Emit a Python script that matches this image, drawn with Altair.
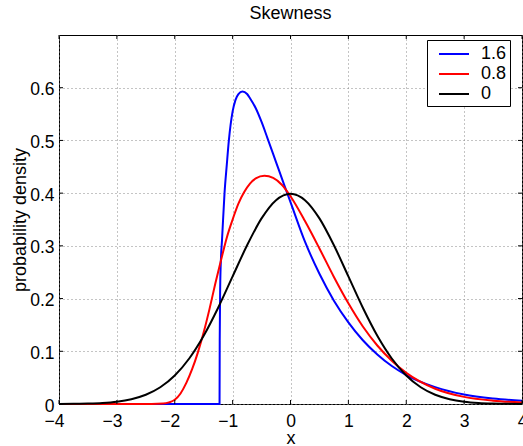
import altair as alt
import pandas as pd

FONT = "Liberation Sans"
W, H = 463, 369

series_names = ["1.6", "0.8", "0"]
series_colors = ["#0000ff", "#ff0000", "#000000"]

x_ticks = [-4, -3, -2, -1, 0, 1, 2, 3, 4]
y_ticks = [0, 0.1, 0.2, 0.3, 0.4, 0.5, 0.6]

# skewness 1.6 (blue)
blue_x = [-4.0, -1.226, -1.223, -1.215, -1.2, -1.184, -1.14, -1.1, -1.065, -1.0,
          -0.95, -0.9, -0.83, -0.75, -0.7, -0.6, -0.5, -0.4, -0.25, -0.1, 0.0,
          0.25, 0.5, 0.75, 1.0, 1.25, 1.5, 1.75, 2.0, 2.5, 3.0, 3.5, 4.0]
blue_y = [0.0, 0.0, 0.12, 0.22, 0.28, 0.31, 0.40, 0.455, 0.50, 0.555,
          0.577, 0.588, 0.593, 0.588, 0.580, 0.561, 0.535, 0.505, 0.459, 0.413, 0.383,
          0.308, 0.247, 0.196, 0.155, 0.121, 0.094, 0.072, 0.055, 0.032, 0.018, 0.0105, 0.0062]

# skewness 0.8 (red)
red_x = [-4.0, -2.4, -2.2, -2.1, -2.0, -1.9, -1.8, -1.7, -1.6, -1.5, -1.4, -1.3,
         -1.2, -1.1, -1.0, -0.9, -0.8, -0.7, -0.6, -0.45, -0.3, -0.15, 0.0, 0.25,
         0.5, 0.75, 1.0, 1.25, 1.5, 1.75, 2.0, 2.5, 3.0, 3.5, 4.0]
red_y = [0.0, 0.0, 0.0008, 0.003, 0.008, 0.02, 0.04, 0.066, 0.098, 0.136, 0.18, 0.228,
         0.273, 0.316, 0.350, 0.380, 0.402, 0.418, 0.428, 0.433, 0.429, 0.416, 0.394, 0.347,
         0.295, 0.241, 0.191, 0.147, 0.111, 0.082, 0.059, 0.029, 0.0135, 0.0063, 0.003]

# skewness 0 (black)
black_x = [-4.0, -3.75, -3.5, -3.25, -3.0, -2.75, -2.5, -2.25, -2.0, -1.75, -1.5,
           -1.25, -1.0, -0.75, -0.5, -0.25, 0.0, 0.25, 0.5, 0.75, 1.0, 1.25, 1.5,
           1.75, 2.0, 2.25, 2.5, 2.75, 3.0, 3.25, 3.5, 3.75, 4.0]
black_y = [0.0001, 0.0004, 0.0009, 0.002, 0.0044, 0.0091, 0.0175, 0.0317, 0.054, 0.0863, 0.1295,
           0.1826, 0.242, 0.3011, 0.3521, 0.3867, 0.3989, 0.3867, 0.3521, 0.3011, 0.242, 0.1826, 0.1295,
           0.0863, 0.054, 0.0317, 0.0175, 0.0091, 0.0044, 0.002, 0.0009, 0.0004, 0.0001]

frames = []
for name, xs_, ys_ in [("1.6", blue_x, blue_y), ("0.8", red_x, red_y), ("0", black_x, black_y)]:
    frames.append(pd.DataFrame({"x": xs_, "y": ys_, "series": name}))
df = pd.concat(frames, ignore_index=True)

xscale = alt.Scale(domain=[-4, 4], nice=False, zero=False)
yscale = alt.Scale(domain=[0, 0.7], nice=False, zero=False)

x_axis = alt.Axis(
    values=x_ticks, title="x", format="d", labelFlush=False, labelOverlap=False,
    labelPadding=8,
    labelOffset={"condition": {"test": "datum.value < 0", "value": -5}, "value": 0},
    titleX=W / 2, titleY=34, titleBaseline="middle", titleAlign="center")
y_axis = alt.Axis(
    values=y_ticks, title="probability density", format="~g", labelOverlap=False,
    labelPadding=5, labelOffset=2,
    titleX=-39, titleY=H / 2, titleBaseline="middle", titleAlign="center")

lines = alt.Chart(df).mark_line(strokeWidth=2, interpolate="monotone").encode(
    x=alt.X("x:Q", scale=xscale, axis=x_axis),
    y=alt.Y("y:Q", scale=yscale, axis=y_axis),
    color=alt.Color("series:N", scale=alt.Scale(domain=series_names, range=series_colors),
                    legend=alt.Legend(title=None, orient="none", legendX=368, legendY=5,
                                      direction="vertical", symbolType="M-1.5,0H1.5",
                                      symbolSize=400, symbolStrokeWidth=2,
                                      labelFont=FONT, labelFontSize=18,
                                      labelColor="black", labelOffset=16, padding=3,
                                      strokeColor="black", fillColor="white", rowPadding=0,
                                      symbolOffset=13,
                                      labelExpr="datum.label + '\u00a0\u00a0\u00a0'")),
)

xt_df = pd.DataFrame({"x": x_ticks})
yt_df = pd.DataFrame({"y": y_ticks})

tick_bottom = alt.Chart(xt_df).mark_rule(color="black", strokeWidth=1).encode(
    x=alt.X("x:Q", scale=xscale, axis=x_axis), y=alt.value(H), y2=alt.value(H - 4))
tick_top = alt.Chart(xt_df).mark_rule(color="black", strokeWidth=1).encode(
    x=alt.X("x:Q", scale=xscale, axis=x_axis), y=alt.value(0), y2=alt.value(4))
tick_left = alt.Chart(yt_df).mark_rule(color="black", strokeWidth=1).encode(
    y=alt.Y("y:Q", scale=yscale, axis=y_axis), x=alt.value(0), x2=alt.value(4))
tick_right = alt.Chart(yt_df).mark_rule(color="black", strokeWidth=1).encode(
    y=alt.Y("y:Q", scale=yscale, axis=y_axis), x=alt.value(W), x2=alt.value(W - 4))

chart = alt.layer(lines, tick_bottom, tick_top, tick_left, tick_right).properties(
    width=W, height=H,
    autosize=alt.AutoSizeParams(type="none"),
    padding={"left": 59, "top": 35, "right": 1, "bottom": 42},
    title=alt.TitleParams(text="Skewness", font=FONT, fontSize=18, fontWeight="normal",
                          anchor="middle", offset=12, color="black"),
    background="white",
).configure_axis(
    domain=False, tickSize=0, grid=True, gridColor="#888888", gridDash=[1, 3], gridWidth=1,
    labelFont=FONT, labelFontSize=17.5, labelColor="black",
    titleFont=FONT, titleFontSize=18, titleFontWeight="normal", titleColor="black",
).configure_view(stroke="black", strokeWidth=1)

chart.save("out.html", embed_options={"renderer": "svg", "actions": False})
